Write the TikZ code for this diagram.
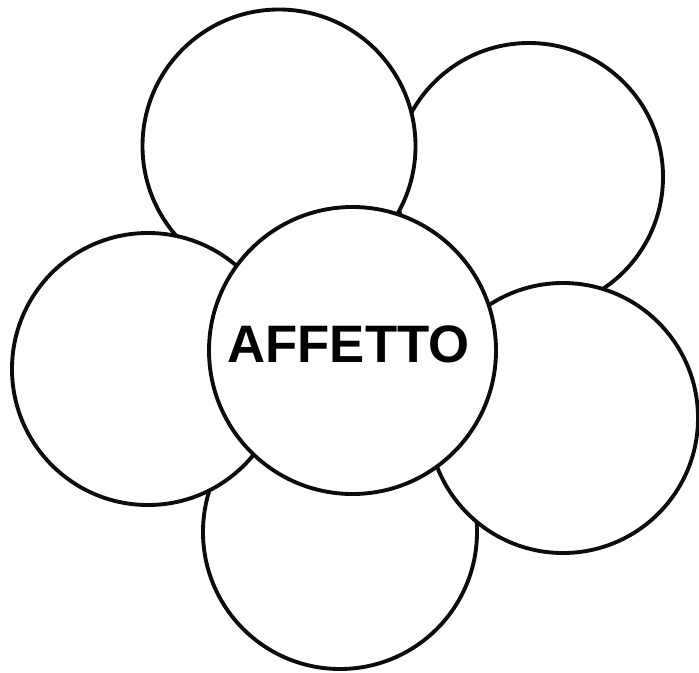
\documentclass[tikz,border=0pt]{standalone}
\usepackage{fontspec}
\setmainfont{Liberation Sans}
\usepackage{xcolor}
\definecolor{flowerLine}{RGB}{12, 12, 12}
\usepackage{tikz}
\usetikzlibrary{
    shapes.geometric,
    positioning
}

\begin{document}
\begin{tikzpicture}[
    petalCircle/.style={
        circle, draw=flowerLine, line width=2.2pt,
        fill=white, inner sep=0pt
    },
    heartCircle/.style={
        petalCircle, minimum size=5.74cm,
        font=\fontsize{30}{30}\selectfont\bfseries, text=black
    }
]

    % Canvas
    \useasboundingbox[fill=white] (0, 0) rectangle (13.98, 13.44);

    % Petals (back to front)
    \node[petalCircle, minimum size=5.36cm] (pTopRight) at (10.58, 9.90) {};
    \node[petalCircle, minimum size=5.46cm] (pTopLeft) at (5.58, 10.52) {};
    \node[petalCircle, minimum size=5.48cm] (pBottom) at (6.80, 2.80) {};
    \node[petalCircle, minimum size=5.44cm] (pLeft) at (2.96, 6.06) {};
    \node[petalCircle, minimum size=5.40cm] (pRight) at (11.26, 5.08) {};

    % Centre
    \node[heartCircle] (heart) at (7.05, 6.43) {};
    \node[font=\fontsize{30}{30}\selectfont\bfseries, inner sep=0pt]
        (heartText) at ([xshift=-0.08cm, yshift=0.12cm]heart.center) {AFFETTO};

\end{tikzpicture}
\end{document}
